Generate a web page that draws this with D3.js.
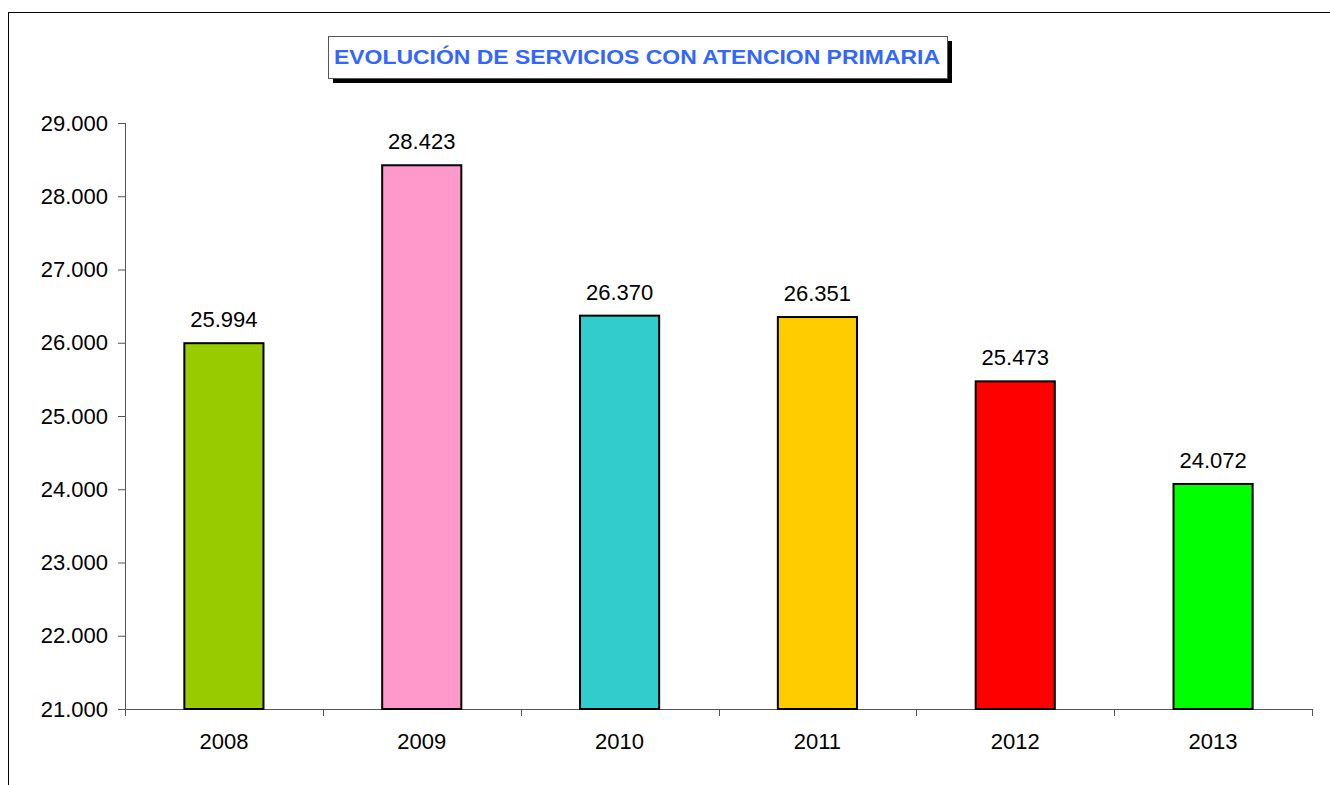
<!DOCTYPE html>
<html>
<head>
<meta charset="utf-8">
<script src="https://cdn.jsdelivr.net/npm/d3@7"></script>
<style>
  body { margin: 0; background: #fff; }
  svg { display: block; font-family: Arial, "Liberation Sans", sans-serif; }
</style>
</head>
<body>
<script>
// chart data
const years = ['2008', '2009', '2010', '2011', '2012', '2013'];
const servicios = [25994, 28423, 26370, 26351, 25473, 24072];
const barColors = ['#99CC00', '#FF99CC', '#33CCCC', '#FFCC00', '#FF0000', '#00FF00'];
const yTicks = [21000, 22000, 23000, 24000, 25000, 26000, 27000, 28000, 29000];
const title = 'EVOLUCIÓN DE SERVICIOS CON ATENCION PRIMARIA';

const width = 1330;
const height = 785;
const plot = { left: 125, right: 1312, top: 123, bottom: 709 };

const fmt = d3.formatLocale({ decimal: ',', thousands: '.', grouping: [3], currency: ['', ''] }).format(',d');

const svg = d3.select('body').append('svg')
  .attr('width', width)
  .attr('height', height);

// outer chart frame
svg.append('rect')
  .attr('x', 8.5).attr('y', 12.5)
  .attr('width', width).attr('height', height)
  .attr('fill', '#fff')
  .attr('stroke', '#000')
  .attr('stroke-width', 1);

const x = d3.scaleBand()
  .domain(years)
  .range([plot.left, plot.right])
  .paddingInner(0.6)
  .paddingOuter(0.3);

const xEdges = d3.scaleLinear()
  .domain([0, years.length])
  .range([plot.left, plot.right]);

const y = d3.scaleLinear()
  .domain([21000, 29000])
  .range([plot.bottom, plot.top]);

// y axis
const yAxis = svg.append('g')
  .attr('transform', `translate(${plot.left},0)`)
  .call(d3.axisLeft(y).tickValues(yTicks).tickFormat(fmt).tickSize(7).tickPadding(10));
yAxis.select('.domain').attr('stroke', '#555').attr('d', `M0.5,${plot.top}V${plot.bottom}`);
yAxis.selectAll('.tick line').attr('stroke', '#555');
yAxis.selectAll('.tick text')
  .attr('font-size', 22)
  .attr('font-family', 'Arial, "Liberation Sans", sans-serif')
  .attr('fill', '#000');

// x axis line and boundary ticks
const xAxis = svg.append('g');
xAxis.append('line')
  .attr('x1', plot.left).attr('x2', plot.right)
  .attr('y1', plot.bottom + 0.5).attr('y2', plot.bottom + 0.5)
  .attr('stroke', '#555');
xAxis.selectAll('.edge')
  .data(d3.range(years.length + 1))
  .join('line')
  .attr('class', 'edge')
  .attr('x1', d => Math.round(xEdges(d)) + 0.5)
  .attr('x2', d => Math.round(xEdges(d)) + 0.5)
  .attr('y1', plot.bottom)
  .attr('y2', plot.bottom + 7)
  .attr('stroke', '#555');
xAxis.selectAll('.year')
  .data(years)
  .join('text')
  .attr('class', 'year')
  .attr('x', d => x(d) + x.bandwidth() / 2)
  .attr('y', plot.bottom + 40)
  .attr('text-anchor', 'middle')
  .attr('font-size', 22)
  .text(d => d);

// bars
svg.selectAll('.bar')
  .data(servicios)
  .join('rect')
  .attr('class', 'bar')
  .attr('x', (d, i) => x(years[i]))
  .attr('y', d => y(d))
  .attr('width', x.bandwidth())
  .attr('height', d => plot.bottom - y(d))
  .attr('fill', (d, i) => barColors[i])
  .attr('stroke', '#000')
  .attr('stroke-width', 2);

// value labels
svg.selectAll('.value')
  .data(servicios)
  .join('text')
  .attr('class', 'value')
  .attr('x', (d, i) => x(years[i]) + x.bandwidth() / 2)
  .attr('y', d => y(d) - 16)
  .attr('text-anchor', 'middle')
  .attr('font-size', 22)
  .text(d => fmt(d));

// title box with drop shadow
const tb = { x: 328, y: 36, w: 619, h: 42 };
svg.append('rect')
  .attr('x', tb.x + 5).attr('y', tb.y + 5)
  .attr('width', tb.w).attr('height', tb.h)
  .attr('fill', '#000');
svg.append('rect')
  .attr('x', tb.x + 0.5).attr('y', tb.y + 0.5)
  .attr('width', tb.w).attr('height', tb.h)
  .attr('fill', '#fff')
  .attr('stroke', '#555');
svg.append('text')
  .attr('x', tb.x + 6)
  .attr('y', tb.y + 28)
  .attr('font-size', 21)
  .attr('font-weight', 'bold')
  .attr('fill', '#3366FF')
  .attr('textLength', 606)
  .attr('lengthAdjust', 'spacingAndGlyphs')
  .text(title);
</script>
</body>
</html>
